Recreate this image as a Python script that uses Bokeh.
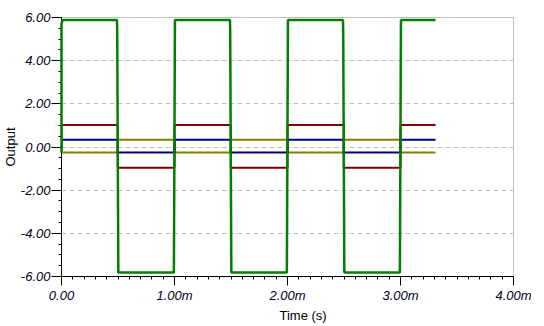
from bokeh.plotting import figure
from bokeh.models import FixedTicker, Range1d, Title
from bokeh.embed import file_html
from bokeh.resources import INLINE

# ---- data (time in ms) ----
green_t = [0.0, 0.0, 0.01, 0.491, 0.493, 0.503, 0.994, 0.995, 1.004,
           1.491, 1.493, 1.503, 1.994, 1.995, 2.004,
           2.491, 2.493, 2.503, 2.994, 2.995, 3.004, 3.31]
green_v = [-0.26, 5.72, 5.88, 5.88, 5.30, -5.82, -5.82, -5.30, 5.88,
           5.88, 5.30, -5.82, -5.82, -5.30, 5.88,
           5.88, 5.30, -5.82, -5.82, -5.30, 5.88, 5.88]

step_t = [0.0, 0.0, 0.498, 0.498, 1.0, 1.0, 1.498, 1.498, 2.0, 2.0,
          2.498, 2.498, 3.0, 3.0, 3.31]
red_v = [0.0, 1.02, 1.02, -0.96, -0.96, 1.02, 1.02, -0.96, -0.96, 1.02,
         1.02, -0.96, -0.96, 1.02, 1.02]
blue_v = [0.0, 0.34, 0.34, -0.26, -0.26, 0.34, 0.34, -0.26, -0.26, 0.34,
          0.34, -0.26, -0.26, 0.34, 0.34]
olive_v = [0.0, -0.26, -0.26, 0.34, 0.34, -0.26, -0.26, 0.34, 0.34, -0.26,
           -0.26, 0.34, 0.34, -0.26, -0.26]

x_ticks = [0, 1, 2, 3, 4]
x_labels = ["0.00", "1.00m", "2.00m", "3.00m", "4.00m"]
y_ticks = [-6, -4, -2, 0, 2, 4, 6]
y_labels = ["-6.00", "-4.00", "-2.00", "0.00", "2.00", "4.00", "6.00"]

FONT = "Liberation Sans"

p = figure(width=544, height=326, output_backend="svg", toolbar_location=None,
           x_range=Range1d(0, 4), y_range=Range1d(-6, 6),
           min_border_left=60, min_border_right=31,
           min_border_top=17, min_border_bottom=50)
p.background_fill_color = "white"
p.border_fill_color = "white"
p.outline_line_color = "#c0c0c0"
p.outline_line_width = 1

x_minor = [i / 10 for i in range(0, 41)]
y_minor = [i / 2 for i in range(-12, 13)]
p.xaxis.ticker = FixedTicker(ticks=x_ticks, minor_ticks=x_minor)
p.yaxis.ticker = FixedTicker(ticks=y_ticks, minor_ticks=y_minor)
p.xaxis.major_label_overrides = dict(zip(x_ticks, x_labels))
p.yaxis.major_label_overrides = dict(zip(y_ticks, y_labels))

for ax in (p.xaxis, p.yaxis):
    ax.axis_line_color = "black"
    ax.major_tick_line_color = "black"
    ax.minor_tick_line_color = "black"
    ax.major_tick_in = 0
    ax.minor_tick_in = 0
    ax.major_label_text_font = FONT
    ax.major_label_text_font_style = "italic"
    ax.major_label_text_font_size = "13px"
    ax.major_label_text_color = "#000022"

p.xaxis.major_tick_out = 9
p.xaxis.minor_tick_out = 3
p.xaxis.major_label_standoff = 2
p.yaxis.major_tick_out = 10
p.yaxis.minor_tick_out = 3
p.yaxis.major_label_standoff = 1

p.xgrid.grid_line_color = None
p.ygrid.grid_line_color = "#c0c0c0"
p.ygrid.grid_line_dash = "5 3"
p.ygrid.grid_line_width = 1

p.line(step_t, olive_v, line_color="#808000", line_width=2)
p.line(step_t, blue_v, line_color="#000080", line_width=2)
p.line(step_t, red_v, line_color="#800000", line_width=2)
p.line(green_t, green_v, line_color="#008000", line_width=2.5, level="overlay")

ylab = Title(text="Output", align="center", text_font=FONT,
             text_font_size="13px", text_font_style="normal",
             text_color="black", standoff=0)
p.add_layout(ylab, "left")
xlab = Title(text="Time (s)", align="left", offset=218, text_font=FONT,
             text_font_size="13px", text_font_style="normal",
             text_color="black", standoff=0)
p.add_layout(xlab, "below")

open("out.html", "w").write(file_html(p, INLINE))
